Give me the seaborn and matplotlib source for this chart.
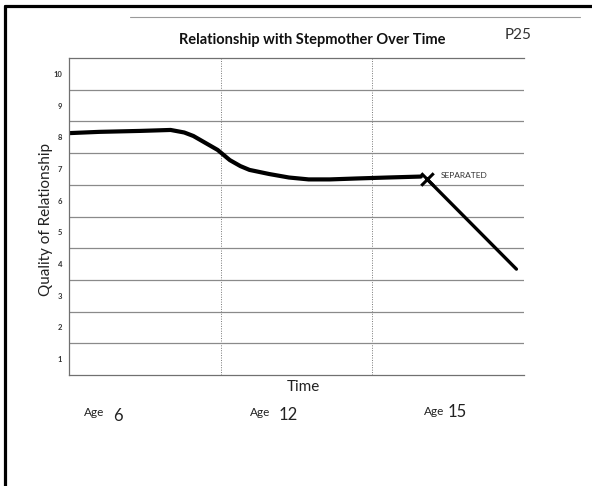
import numpy as np
import pandas as pd
import matplotlib
matplotlib.use("Agg")
import matplotlib.pyplot as plt
from matplotlib.lines import Line2D
import seaborn as sns

# =====================================
# Data
# =====================================

time_before = [0.00, 0.20, 0.47, 0.67, 0.76, 0.82, 0.90, 0.98, 1.06, 1.13,
               1.19, 1.32, 1.45, 1.58, 1.72, 1.90, 2.10, 2.32]
quality_before = [8.13, 8.17, 8.20, 8.23, 8.15, 8.04, 7.82, 7.60, 7.28, 7.09,
                  6.97, 6.84, 6.73, 6.67, 6.67, 6.70, 6.73, 6.76]

time_after = [2.36, 2.40, 2.95]
quality_after = [6.68, 6.49, 3.84]

separated_time = 2.36
separated_quality = 6.68

quality_ticks = [1, 2, 3, 4, 5, 6, 7, 8, 9, 10]
period_breaks = [1, 2]
ages = ["6", "12", "15"]

df_before = pd.DataFrame({"time": time_before, "quality": quality_before})
df_after = pd.DataFrame({"time": time_after, "quality": quality_after})

# =====================================
# Style
# =====================================

sns.set_style("white")
plt.rcParams["font.family"] = ["Lato", "DejaVu Sans"]

W, H = 592, 486
fig = plt.figure(figsize=(W / 100, H / 100), dpi=100)
ax = fig.add_axes([69 / W, 1 - 375 / H, (524 - 69) / W, (375 - 58) / H])

# =====================================
# Curve
# =====================================

sns.lineplot(data=df_before, x="time", y="quality", ax=ax, color="black",
             linewidth=3.0, solid_capstyle="round", solid_joinstyle="round")
sns.lineplot(data=df_after, x="time", y="quality", ax=ax, color="black",
             linewidth=2.4, solid_capstyle="round", solid_joinstyle="round")
sns.scatterplot(x=[separated_time], y=[separated_quality], ax=ax, marker="x",
                s=80, color="black", linewidth=2.2, zorder=5)
ax.text(separated_time + 0.09, separated_quality + 0.1, "SEPARATED",
        fontsize=6.0, color="#333333", va="center")

# =====================================
# Axes, grid
# =====================================

ax.set_xlim(0, 3)
ax.set_ylim(0.5, 10.5)

ax.set_yticks(quality_ticks)
ax.set_yticklabels([str(v) for v in quality_ticks], fontsize=5.5,
                   fontweight="bold", color="#333333")
ax.set_yticks(np.array(quality_ticks[:-1]) + 0.5, minor=True)
ax.tick_params(axis="y", which="both", length=0, pad=5)

ax.set_xticks(period_breaks)
ax.set_xticklabels([])
ax.tick_params(axis="x", length=0)

ax.grid(which="minor", axis="y", color="#8a8a8a", linewidth=0.9)
ax.grid(which="major", axis="y", visible=False)
ax.grid(which="major", axis="x", color="#777777", linewidth=0.7,
        linestyle=(0, (1, 1.5)))

for side in ["left", "bottom", "top"]:
    ax.spines[side].set_color("#707070")
    ax.spines[side].set_linewidth(0.9)
ax.spines["right"].set_visible(False)

ax.set_ylabel("Quality of Relationship", fontsize=11, color="#222222")
ax.yaxis.set_label_coords(-0.035, 0.49)
ax.set_xlabel("Time", fontsize=11, color="#222222")
ax.xaxis.set_label_coords(0.516, -0.015)

ax.set_title("Relationship with Stepmother Over Time", fontsize=10.5,
             fontweight="bold", color="#111111", x=0.534, pad=10)

# =====================================
# Page labels
# =====================================

fig.text(518 / W, 1 - 35 / H, "P25", fontsize=11,
         ha="center", va="center", color="#333333")

age_word_x = [84, 250, 424]
age_word_y = [413, 413, 411]
age_num_x = [113, 279, 448]
age_num_y = [416, 415, 412]
for i, age in enumerate(ages):
    fig.text(age_word_x[i] / W, 1 - age_word_y[i] / H, "Age", fontsize=8.5,
             ha="left", va="center", color="#222222")
    fig.text(age_num_x[i] / W, 1 - age_num_y[i] / H, age, fontsize=12,
             ha="left", va="center", color="#222222")

# page frame from the scan
fig.add_artist(Line2D([5 / W, 1], [1 - 6 / H, 1 - 6 / H], color="black",
                      linewidth=2.3, transform=fig.transFigure))
fig.add_artist(Line2D([5 / W, 5 / W], [0, 1 - 6 / H], color="black",
                      linewidth=2.3, transform=fig.transFigure))
fig.add_artist(Line2D([130 / W, 580 / W], [1 - 17 / H, 1 - 17 / H],
                      color="#9a9a9a", linewidth=0.8, transform=fig.transFigure))

fig.savefig("out.png", dpi=100)
